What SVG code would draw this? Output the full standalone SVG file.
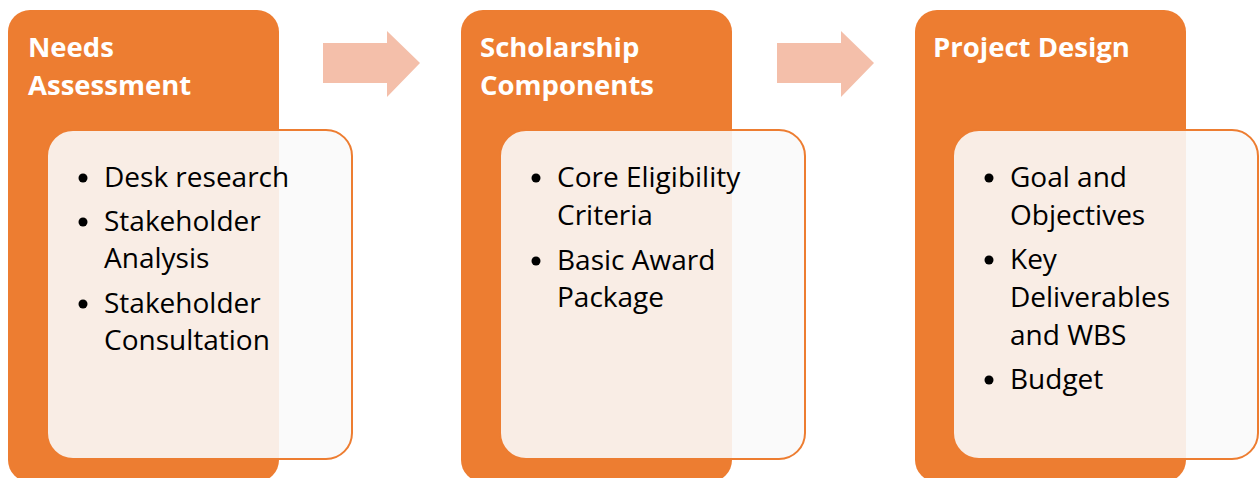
<svg xmlns="http://www.w3.org/2000/svg" width="1259" height="478" viewBox="0 0 1259 478">
<style>
.outer{fill:#ED7D31;}
.inner{fill:#F9F9F9;fill-opacity:0.9;stroke:#ED7D31;stroke-width:2;}
.title{font-family:"Open Sans","Liberation Sans",sans-serif;font-weight:bold;font-size:27.5px;fill:#FFFFFF;}
.item{font-family:"Open Sans","Liberation Sans",sans-serif;font-size:28px;fill:#000000;}
.dot{fill:#000000;}
.arrow{fill:#F4BFAA;}
</style>
<rect width="1259" height="478" fill="#FFFFFF"/>
<g id="connectors">
<polygon class="arrow" points="323,43 387,43 387,31 420,63 387,97 387,83 323,83"/>
<polygon class="arrow" points="777,43 841,43 841,31 874,63 841,97 841,83 777,83"/>
</g>
<g id="node-needs-assessment">
<rect class="outer" x="8" y="10" width="271" height="472" rx="22"/>
<text class="title" x="28" y="57">Needs</text>
<text class="title" x="28" y="95">Assessment</text>
<rect class="inner" x="47" y="130" width="305" height="329" rx="26"/>
<circle class="dot" cx="83" cy="178" r="4.5"/>
<text class="item" x="104" y="187">Desk research</text>
<circle class="dot" cx="83" cy="222" r="4.5"/>
<text class="item" x="104" y="231">Stakeholder</text>
<text class="item" x="104" y="268">Analysis</text>
<circle class="dot" cx="83" cy="304" r="4.5"/>
<text class="item" x="104" y="313">Stakeholder</text>
<text class="item" x="104" y="350">Consultation</text>
</g>
<g id="node-scholarship-components">
<rect class="outer" x="461" y="10" width="271" height="472" rx="22"/>
<text class="title" x="480" y="57">Scholarship</text>
<text class="title" x="480" y="95">Components</text>
<rect class="inner" x="500" y="130" width="305" height="329" rx="26"/>
<circle class="dot" cx="536" cy="178" r="4.5"/>
<text class="item" x="557" y="187">Core Eligibility</text>
<text class="item" x="557" y="225">Criteria</text>
<circle class="dot" cx="536" cy="261" r="4.5"/>
<text class="item" x="557" y="270">Basic Award</text>
<text class="item" x="557" y="307">Package</text>
</g>
<g id="node-project-design">
<rect class="outer" x="915" y="10" width="271" height="472" rx="22"/>
<text class="title" x="933" y="57">Project Design</text>
<rect class="inner" x="953" y="130" width="305" height="329" rx="26"/>
<circle class="dot" cx="989" cy="178" r="4.5"/>
<text class="item" x="1010" y="187">Goal and</text>
<text class="item" x="1010" y="225">Objectives</text>
<circle class="dot" cx="989" cy="260" r="4.5"/>
<text class="item" x="1010" y="269">Key</text>
<text class="item" x="1010" y="307">Deliverables</text>
<text class="item" x="1010" y="345">and WBS</text>
<circle class="dot" cx="989" cy="380" r="4.5"/>
<text class="item" x="1010" y="389">Budget</text>
</g>
</svg>
